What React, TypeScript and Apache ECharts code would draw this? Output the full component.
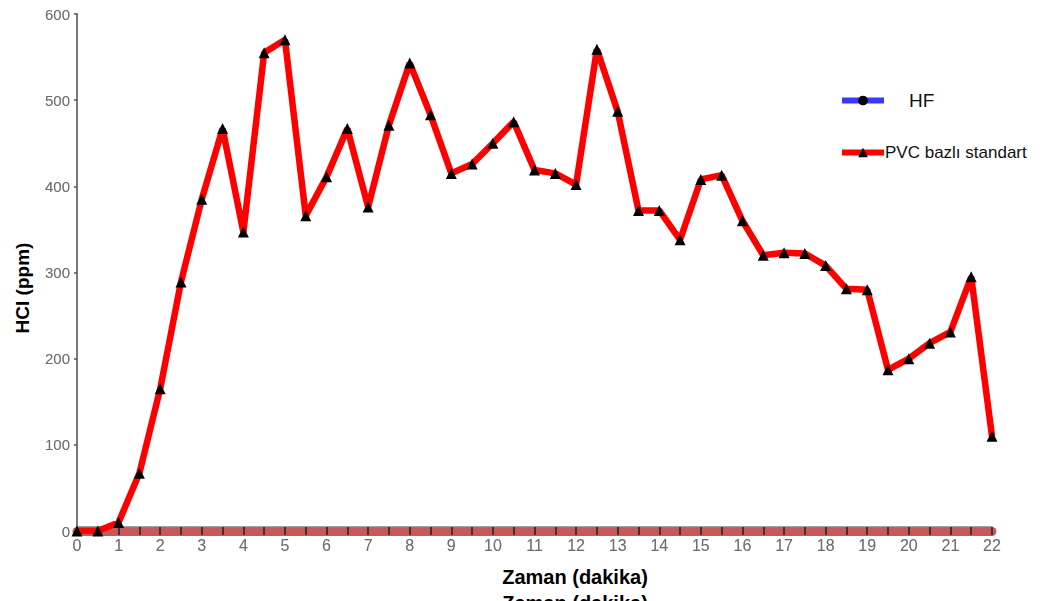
import React, { useEffect, useRef } from "react";
import * as echarts from "echarts";

const times: number[] = [
  0, 0.5, 1, 1.5, 2, 2.5, 3, 3.5, 4, 4.5, 5, 5.5, 6, 6.5, 7, 7.5, 8, 8.5, 9, 9.5,
  10, 10.5, 11, 11.5, 12, 12.5, 13, 13.5, 14, 14.5, 15, 15.5, 16, 16.5, 17, 17.5,
  18, 18.5, 19, 19.5, 20, 20.5, 21, 21.5, 22,
];
const pvcValues: number[] = [
  0, 0, 10, 67, 165, 289, 385, 467, 347, 555, 570, 366, 411, 467, 376, 471, 543,
  483, 415, 426, 450, 475, 419, 415, 402, 559, 487, 372, 372, 338, 408, 413, 360,
  320, 323, 322, 308, 281, 280, 187, 200, 218, 231, 295, 110,
];
const hfValues: number[] = [];
const seriesNames: string[] = ["HF", "PVC bazlı standart"];
const xTitle = "Zaman (dakika)";
const yTitle = "HCl (ppm)";

export default function App() {
  const ref = useRef<HTMLDivElement>(null);
  useEffect(() => {
    if (!ref.current) return;
    const chart = echarts.init(ref.current, undefined, { renderer: "svg" });
    const labelStyle = {
      color: "#6e6e6e",
      fontFamily: "Liberation Sans, Arial, sans-serif",
      fontSize: 16,
      textShadowColor: "rgba(0,0,0,0.25)",
      textShadowBlur: 1,
    };
    chart.setOption({
      animation: false,
      backgroundColor: "#ffffff",
      grid: { left: 77, right: 71, top: 14, bottom: 70, containLabel: false },
      xAxis: [
        {
          type: "value",
          min: 0,
          max: 22,
          interval: 0.5,
          position: "bottom",
          z: 1,
          axisLine: { show: true, onZero: false, lineStyle: { color: "#c65a5a", width: 9 } },
          axisTick: { show: false },
          axisLabel: { show: false },
          splitLine: { show: false },
        },
        {
          type: "value",
          min: 0,
          max: 22,
          interval: 0.5,
          position: "bottom",
          offset: -4,
          z: 3,
          axisLine: { show: true, onZero: false, lineStyle: { color: "#808080", width: 1.5 } },
          axisTick: { show: true, inside: false, length: 8, lineStyle: { color: "#222", width: 1.5 } },
          axisLabel: {
            ...labelStyle,
            margin: 10,
            formatter: (v: number) => (Number.isInteger(v) ? String(v) : ""),
          },
          splitLine: { show: false },
        },
      ],
      yAxis: {
        type: "value",
        min: 0,
        max: 600,
        interval: 100,
        axisLine: { show: true, lineStyle: { color: "#7a7a7a", width: 2 } },
        axisTick: { show: true, length: 3, lineStyle: { color: "#555", width: 1.5 } },
        axisLabel: { ...labelStyle, fontSize: 15, margin: 7 },
        splitLine: { show: false },
      },
      legend: [
        {
          data: [seriesNames[0]],
          left: 834,
          top: 86,
          itemWidth: 42,
          itemHeight: 12,
          lineStyle: { width: 6 },
          textStyle: {
            fontFamily: "Liberation Sans, Arial, sans-serif",
            fontSize: 19,
            color: "#111",
            padding: [0, 0, 0, 20],
          },
        },
        {
          data: [seriesNames[1]],
          left: 834,
          top: 139,
          itemWidth: 42,
          itemHeight: 12,
          itemGap: 0,
          lineStyle: { width: 6 },
          textStyle: {
            fontFamily: "Liberation Sans, Arial, sans-serif",
            fontSize: 17,
            color: "#111",
            padding: [0, 0, 0, -4],
          },
        },
      ],
      graphic: [
        {
          type: "text",
          rotation: Math.PI / 2,
          style: {
            text: yTitle,
            font: "bold 19px Liberation Sans, Arial, sans-serif",
            fill: "#000",
            align: "center",
            verticalAlign: "middle",
          },
          x: 22,
          y: 288,
        },
        {
          type: "text",
          x: 575,
          y: 577,
          style: {
            text: xTitle,
            font: "bold 20px Liberation Sans, Arial, sans-serif",
            fill: "#000",
            align: "center",
            verticalAlign: "middle",
          },
        },
        {
          type: "text",
          x: 575,
          y: 603,
          style: {
            text: xTitle,
            font: "bold 20px Liberation Sans, Arial, sans-serif",
            fill: "#000",
            align: "center",
            verticalAlign: "middle",
          },
        },
      ],
      series: [
        {
          name: seriesNames[0],
          type: "line",
          xAxisIndex: 0,
          data: hfValues.map((v, i) => [times[i], v]),
          symbol: "circle",
          symbolSize: 10,
          itemStyle: { color: "#000" },
          lineStyle: { color: "#3a3aff", width: 6 },
          color: "#3a3aff",
        },
        {
          name: seriesNames[1],
          type: "line",
          xAxisIndex: 0,
          data: pvcValues.map((v, i) => [times[i], v]),
          symbol: "triangle",
          symbolSize: 11,
          showAllSymbol: true,
          itemStyle: { color: "#000" },
          lineStyle: { color: "#ff0000", width: 6.5 },
          color: "#ff0000",
          z: 5,
        },
      ],
    });
    return () => chart.dispose();
  }, []);
  return (
    <div
      ref={ref}
      style={{ position: "absolute", left: 0, top: 0, width: 1063, height: 601, overflow: "hidden" }}
    />
  );
}
